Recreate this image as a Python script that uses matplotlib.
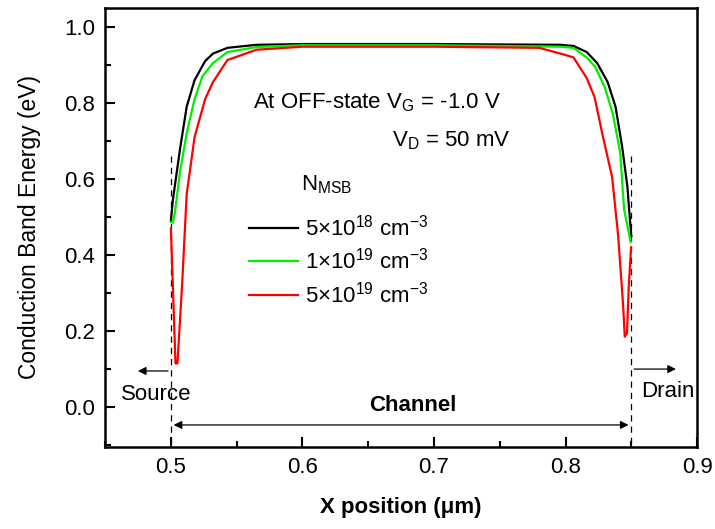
import matplotlib.pyplot as plt
from matplotlib.lines import Line2D
from matplotlib.ticker import MultipleLocator

plt.rcParams['font.family'] = ['Liberation Sans', 'DejaVu Sans']
plt.rcParams['mathtext.fontset'] = 'custom'
plt.rcParams['mathtext.rm'] = 'Liberation Sans'
plt.rcParams['mathtext.it'] = 'Liberation Sans:italic'
plt.rcParams['mathtext.bf'] = 'Liberation Sans:bold'

# Conduction band profiles (x in um, energy in eV)
x_5e18 = [0.5, 0.5015, 0.507, 0.512, 0.518, 0.526, 0.532, 0.543, 0.565, 0.6, 0.7,
          0.796, 0.806, 0.816, 0.824, 0.832, 0.838, 0.843, 0.847, 0.849, 0.85]
e_5e18 = [0.49, 0.545, 0.68, 0.79, 0.86, 0.91, 0.93, 0.945, 0.953, 0.955, 0.955,
          0.953, 0.95, 0.934, 0.905, 0.855, 0.79, 0.685, 0.58, 0.49, 0.45]

x_1e19 = [0.5, 0.5015, 0.503, 0.507, 0.512, 0.518, 0.524, 0.532, 0.543, 0.565, 0.6, 0.7,
          0.796, 0.806, 0.816, 0.8225, 0.830, 0.836, 0.8415, 0.8445, 0.8495]
e_1e19 = [0.487, 0.485, 0.51, 0.62, 0.72, 0.81, 0.87, 0.905, 0.934, 0.947, 0.952, 0.952,
          0.948, 0.945, 0.92, 0.895, 0.84, 0.77, 0.67, 0.52, 0.434]

x_5e19 = [0.5, 0.5035, 0.505, 0.5085, 0.512, 0.518, 0.526, 0.532, 0.543, 0.565, 0.6, 0.7,
          0.78, 0.796, 0.806, 0.816, 0.822, 0.8285, 0.8354, 0.840, 0.8437, 0.845, 0.8467,
          0.848, 0.8498]
e_5e19 = [0.47, 0.115, 0.115, 0.32, 0.56, 0.71, 0.81, 0.855, 0.913, 0.94, 0.948, 0.948,
          0.945, 0.93, 0.92, 0.866, 0.816, 0.71, 0.605, 0.45, 0.27, 0.185, 0.195,
          0.315, 0.42]

labels = ['5×10$^{18}$ cm$^{\\mathregular{-3}}$', '1×10$^{19}$ cm$^{\\mathregular{-3}}$',
          '5×10$^{19}$ cm$^{\\mathregular{-3}}$']
colors = ['black', '#00ee00', 'red']

source_edge = 0.5
drain_edge = 0.85

fs = 16

fig = plt.figure(figsize=(7.15, 5.29), dpi=100)
ax = fig.add_axes([0.147, 0.155, 0.828, 0.83])

for xs, es, c in zip([x_5e18, x_1e19, x_5e19], [e_5e18, e_1e19, e_5e19], colors):
    ax.plot(xs, es, color=c, lw=1.6, zorder=3)

# source / drain boundaries
for xe in [source_edge, drain_edge]:
    ax.plot([xe, xe], [0.66, -0.11], color='black', lw=0.9, ls=(0, (5, 4)), zorder=2)

arrow = dict(arrowstyle='-|>', color='black', lw=0.9, mutation_scale=12)
ax.annotate('', xy=(0.4728, 0.095), xytext=(source_edge, 0.095), arrowprops=arrow)
ax.annotate('', xy=(0.886, 0.10), xytext=(drain_edge, 0.10), arrowprops=arrow)
ax.annotate('', xy=(drain_edge, -0.047), xytext=(source_edge, -0.047),
            arrowprops=dict(arrowstyle='<|-|>', color='black', lw=0.9, mutation_scale=12))
ax.text(0.4886, 0.034, 'Source', fontsize=fs, ha='center', va='center')
ax.text(0.878, 0.04, 'Drain', fontsize=fs, ha='center', va='center')
ax.text(0.684, 0.003, 'Channel', fontsize=fs, fontweight='bold', ha='center', va='center')

ax.text(0.5624, 0.80, 'At OFF-state V$_\\mathregular{G}$ = -1.0 V', fontsize=fs, va='center')
ax.text(0.668, 0.70, 'V$_\\mathregular{D}$ = 50 mV', fontsize=fs, va='center')
ax.text(0.599, 0.585, 'N$_\\mathregular{MSB}$', fontsize=fs, va='center')

handles = [Line2D([], [], color=c, lw=1.6) for c in colors]
ax.legend(handles, labels, loc='upper left', bbox_to_anchor=(0.228, 0.55), frameon=False,
          fontsize=fs, handlelength=2.2, handletextpad=0.3, labelspacing=0.35,
          borderaxespad=0)

ax.set_xlim(0.45, 0.9)
ax.set_ylim(-0.105, 1.05)
ax.xaxis.set_major_locator(MultipleLocator(0.1))
ax.xaxis.set_minor_locator(MultipleLocator(0.05))
ax.yaxis.set_major_locator(MultipleLocator(0.2))
ax.yaxis.set_minor_locator(MultipleLocator(0.1))
ax.xaxis.set_major_formatter(plt.FormatStrFormatter('%.1f'))
ax.yaxis.set_major_formatter(plt.FormatStrFormatter('%.1f'))
ax.tick_params(which='both', direction='in', labelsize=fs, width=1.5)
ax.tick_params(which='major', length=7, pad=7)
ax.tick_params(which='minor', length=4)
for s in ax.spines.values():
    s.set_linewidth(1.8)

ax.set_xlabel('X position (μm)', fontsize=fs, fontweight='bold', labelpad=14)
ax.set_ylabel('Conduction Band Energy (eV)', fontsize=16.5, labelpad=17)

plt.savefig('out.png', dpi=100)
plt.close()
